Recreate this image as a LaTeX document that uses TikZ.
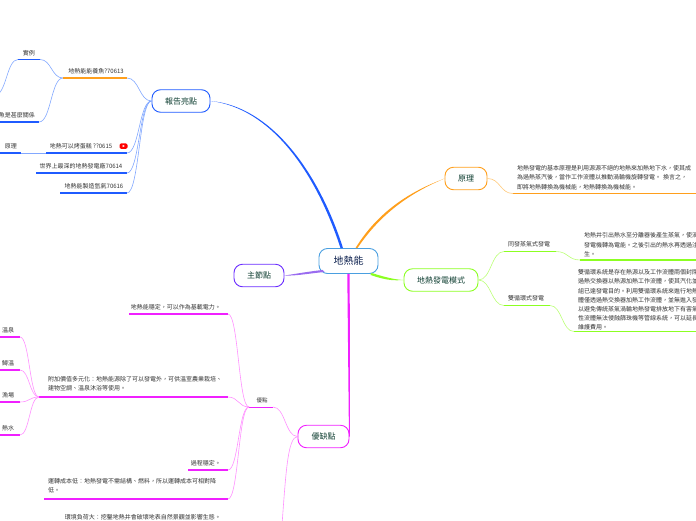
\documentclass[tikz,border=0pt]{standalone}
\usepackage{fontspec}
\setmainfont{Noto Sans CJK TC}
\usetikzlibrary{calc}
\definecolor{cblue}{HTML}{1F5BFF}\definecolor{lblue}{HTML}{82A8FF}
\definecolor{corange}{HTML}{FF9F1C}\definecolor{lorange}{HTML}{FFC97A}
\definecolor{cgreen}{HTML}{8CFF22}\definecolor{lgreen}{HTML}{BCFF78}
\definecolor{cpink}{HTML}{F020FF}\definecolor{lpink}{HTML}{FF90FF}
\definecolor{cpurple}{HTML}{6A2CFF}\definecolor{lpurple}{HTML}{9A6CF0}
\definecolor{croot}{HTML}{4A9FE0}\definecolor{ink}{HTML}{333333}
\definecolor{topic}{HTML}{0D3D30}\definecolor{rootink}{HTML}{0B1F4D}
\tikzset{
 x=1pt,y=-1pt,
 topicbox/.style={draw,rounded corners=8.5pt,line width=0.9pt,minimum height=22.5pt,inner sep=0pt,text=topic,font=\fontsize{8}{9}\selectfont},
 leaftext/.style={inner sep=0pt,text=ink,font=\fontsize{6}{9.2}\selectfont,align=left},
 rule/.style={line width=1.3pt},
 branch/.style={line width=0.6pt},
}
\newcommand{\tocurve}[3]{\draw[branch,#1] let \p1=(#2),\p2=(#3),\n1={0.5*(\x1+\x2)} in (#2) .. controls (\n1,\y1) and (\n1,\y2) .. (#3);}
\begin{document}
\begin{tikzpicture}
\useasboundingbox (0,0) rectangle (696,520);
\clip (0,0) rectangle (696,520);
% main topics
\node[topicbox,draw=croot,minimum width=59pt,minimum height=25pt,text=rootink,font=\fontsize{10}{11}\selectfont] (root) at (348.5,261) {地熱能};
\node[topicbox,draw=cblue,minimum width=58pt] (rep) at (181,101) {報告亮點};
\node[topicbox,draw=corange,minimum width=42pt] (pri) at (466,178.5) {原理};
\node[topicbox,draw=cgreen,minimum width=74pt] (mode) at (441,280) {地熱發電模式};
\node[topicbox,draw=cpurple,minimum width=50pt] (sub) at (259,275.5) {主節點};
\node[topicbox,draw=cpink,minimum width=51pt] (pc) at (323.5,436.5) {優缺點};
% root connectors
\fill[cblue] (rep.east) .. controls (270,108) and (315,170) .. ($(root.north)+(-8,0)$) -- ($(root.north)+(-5.5,0)$) .. controls (318,170) and (270,106) .. (rep.east) -- cycle;
\fill[corange] (pri.west) .. controls (420,188) and (382,205) .. ($(root.north)+(7,0)$) -- ($(root.north)+(9,0)$) .. controls (385,207) and (420,189) .. (pri.west) -- cycle;
\fill[cgreen] (mode.west) .. controls (395,279.5) and (388,278) .. ($(root.south east)+(-7,-1)$) -- ($(root.south east)+(-8,1)$) .. controls (388,281) and (395,280.5) .. (mode.west) -- cycle;
\fill[lpurple] (sub.east) .. controls (295,274) and (305,272) .. ($(root.south west)+(4,-4)$) -- ($(root.south west)+(6,-2)$) .. controls (305,274) and (295,276) .. (sub.east) -- cycle;
\fill[cpink] ($(root.south)+(-1.2,0)$) -- ($(root.south)+(1.2,0)$) -- ($(pc.east)+(0.5,0)$) -- ($(pc.east)+(-0.5,0)$) -- cycle;
% report branch
\coordinate (bone) at (127,78);\coordinate (bones) at (63,78);
\draw[rule,corange] (bones) -- (bone);
\node[leaftext,anchor=base] (tone) at (96,73.5) {地熱能能養魚?70613};
\coordinate (btwo) at (127,153);\coordinate (btwos) at (46,153);
\draw[rule,cblue] (btwos) -- (btwo);
\node[leaftext,anchor=base] (ttwo) at (81,148.5) {地熱可以烤蛋糕 ??0615};
\coordinate (bthree) at (127,173);\coordinate (bthrees) at (36,173);
\draw[rule,cblue] (bthrees) -- (bthree);
\node[leaftext,anchor=base] (tthree) at (81,168.5) {世界上最深的地熱發電廠70614};
\coordinate (bfour) at (127,193);\coordinate (bfours) at (60,193);
\draw[rule,cblue] (bfours) -- (bfour);
\node[leaftext,anchor=base] (tfour) at (94,188.5) {地熱能製造氫氣70616};
\tocurve{lblue}{bone}{rep.west}\tocurve{lblue}{btwo}{rep.west}\tocurve{lblue}{bthree}{rep.west}\tocurve{lblue}{bfour}{rep.west}
\node[fill=red,rounded corners=1.5pt,minimum width=8pt,minimum height=5.5pt,inner sep=0pt] (yt) at (123.5,146) {};
\fill[white] ($(yt)+(-1,-1.2)$) -- ($(yt)+(1.3,0)$) -- ($(yt)+(-1,1.2)$) -- cycle;
% sub-branches of first leaf
\coordinate (cAr) at (40,59.5);\coordinate (cAl) at (18,59.5);
\draw[rule,cblue] (cAl) -- (cAr);
\node[leaftext,anchor=base] (uA) at (29,55) {實例};
\coordinate (cBr) at (39,122);\coordinate (cBl) at (-5,122);
\draw[rule,cblue] (cBl) -- (cBr);
\node[leaftext,anchor=base east] (uB) at (35,117.5) {養魚是甚麼關係};
\coordinate (cCr) at (21,153);\coordinate (cCl) at (-5,153);
\draw[rule,cblue] (cCl) -- (cCr);
\node[leaftext,anchor=base] (uC) at (11,148) {原理};
\coordinate (farl) at (-5,95);
\tocurve{lblue}{bones}{cAr}\tocurve{lblue}{bones}{cBr}\tocurve{lblue}{btwos}{cCr}\tocurve{lblue}{cAl}{farl}
% principle text
\coordinate (pa) at (513,193.5);\coordinate (pb) at (700,193.5);
\draw[rule,corange] (pa) -- (pb);
\node[leaftext,anchor=north west,text width=190pt] (pt) at (517,165.5) {地熱發電的基本原理是利用源源不絕的地熱來加熱地下水，使其成\\為過熱蒸汽後，當作工作流體以推動渦輪機旋轉發電。 換言之，\\即將地熱轉換為機械能，地熱轉換為機械能。};
\tocurve{lorange}{pri.east}{pa}
% modes
\coordinate (mAl) at (504,251.5);\coordinate (mAr) at (556,251.5);
\draw[rule,cgreen] (mAl) -- (mAr);
\node[leaftext,anchor=base west] (mtA) at (508,246.5) {同發蒸氣式發電};
\coordinate (mBl) at (504,305.5);\coordinate (mBr) at (550,305.5);
\draw[rule,cgreen] (mBl) -- (mBr);
\node[leaftext,anchor=base west] (mtB) at (508,300.5) {雙循環式發電};
\tocurve{lgreen}{mode.east}{mAl}\tocurve{lgreen}{mode.east}{mBl}
\coordinate (mCl) at (580,260);\coordinate (mCr) at (700,260);
\draw[rule,cgreen] (mCl) -- (mCr);
\node[leaftext,anchor=north west,text width=130pt] (mtC) at (584,232.5) {地熱井引出熱水至分離器後產生蒸氣，使渦\\發電機轉為電能。之後引出的熱水再透過注\\生。};
\tocurve{lgreen}{mAr}{mCl}
\coordinate (mDl) at (574,331.5);\coordinate (mDr) at (700,331.5);
\draw[rule,cgreen] (mDl) -- (mDr);
\node[leaftext,anchor=north west,text width=130pt] (mtD) at (578,269.5) {雙循環系統是存在熱源以及工作流體兩個封閉\\過熱交換器以熱源加熱工作流體，使其汽化並\\組已達發電目的。利用雙循環系統來進行地熱\\體僅透過熱交換器加熱工作流體，並無進入發\\以避免傳統蒸氣渦輪地熱發電排放地下有害氣\\性流體無法侵蝕篩珠機等管線系統，可以延長\\維護費用。};
\tocurve{lgreen}{mBr}{mDl}
% pros
\coordinate (ad) at (249,407);\coordinate (adr) at (273,407);
\draw[line width=1pt,cpink] (ad) -- (adr);
\node[leaftext,anchor=base,font=\fontsize{5.5}{6}\selectfont] (adt) at (262,402.5) {優點};
\tocurve{lpink}{adr}{pc.west}
\coordinate (dAl) at (129,314);\coordinate (dAr) at (228,314);
\draw[rule,cpink] (dAl) -- (dAr);
\node[leaftext,anchor=base east] (dtA) at (221,309.5) {地熱能穩定，可以作為基載電力。};
\coordinate (dBl) at (39,397);\coordinate (dBr) at (228,397);
\draw[rule,cpink] (dBl) -- (dBr);
\node[leaftext,anchor=north west,text width=185pt] (dtB) at (48,376) {附加價值多元化：地熱能源除了可以發電外，可供溫室農業栽培、\\建物空調、溫泉沐浴等使用。};
\coordinate (dCl) at (188,470);\coordinate (dCr) at (228,470);
\draw[rule,cpink] (dCl) -- (dCr);
\node[leaftext,anchor=base east] (dtC) at (221,465.5) {過程穩定。};
\coordinate (dDl) at (44,499);\coordinate (dDr) at (228,499);
\draw[rule,cpink] (dDl) -- (dDr);
\node[leaftext,anchor=north west,text width=178pt] (dtD) at (48,478) {運轉成本低：地熱發電不需結構、燃料，所以運轉成本可相對降\\低。};
\node[leaftext,anchor=base east] (dtE) at (221,519) {環境負荷大：挖鑿地熱井會破壞地表自然景觀並影響生態。};
\tocurve{lpink}{dAr}{ad}\tocurve{lpink}{dBr}{ad}\tocurve{lpink}{dCr}{ad}\tocurve{lpink}{dDr}{ad}
\coordinate (conb) at (282,525);
\draw[branch,lpink] (pc.west) .. controls (288,437) and (286,470) .. (conb);
% sub-leaves
\foreach \nm/\yy/\tx in {ea/337/溫泉,eb/370/鱘溫,ec/402/漁場,ed/435/熱水}{
 \coordinate (\nm r) at (20,\yy);\coordinate (\nm l) at (-5,\yy);
 \draw[rule,cpink] (\nm l) -- (\nm r);
 \node[leaftext,anchor=base] (\nm t) at (8,\yy-5) {\tx};
 \tocurve{lpink}{dBl}{\nm r}
}
\end{tikzpicture}
\end{document}
